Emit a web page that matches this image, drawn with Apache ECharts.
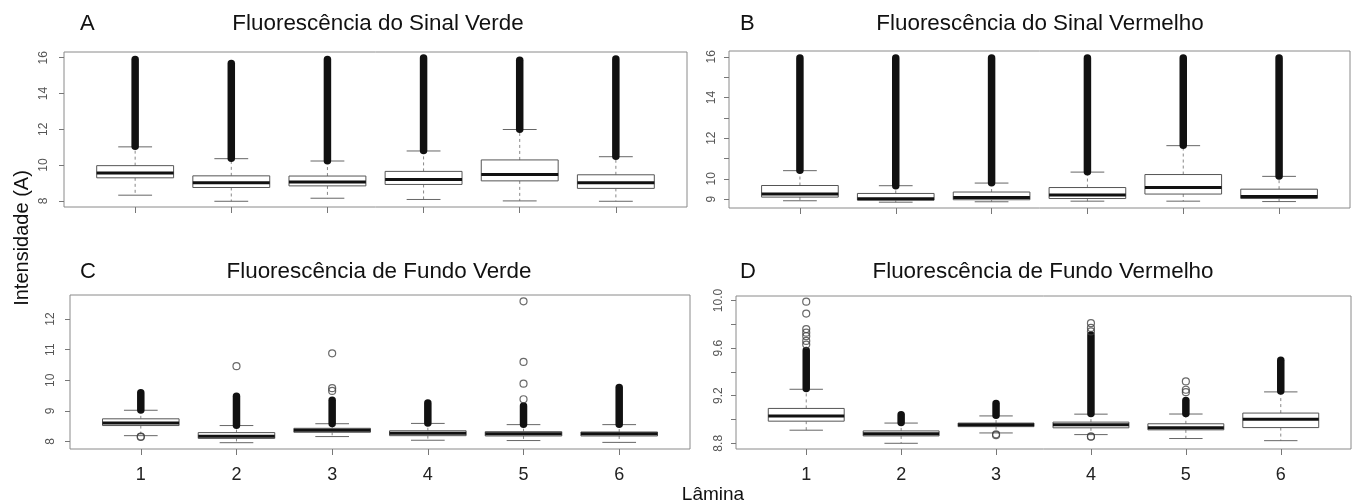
<!DOCTYPE html>
<html><head><meta charset="utf-8">
<script src="https://cdn.jsdelivr.net/npm/echarts@6/dist/echarts.min.js"></script>
<style>html,body{margin:0;padding:0;background:#fff}#c{width:1357px;height:503px}</style>
</head><body><div id="c"></div>
<script>
// ---------- data ----------
const laminas = [1, 2, 3, 4, 5, 6];
const panelLetters = ['A', 'B', 'C', 'D'];
const panelTitles = ['Fluorescência do Sinal Verde', 'Fluorescência do Sinal Vermelho',
                     'Fluorescência de Fundo Verde', 'Fluorescência de Fundo Vermelho'];
const yAxisName = 'Intensidade (A)';
const xAxisName = 'Lâmina';

// [min whisker, Q1, median, Q3, max whisker] per lâmina
const sinalVerdeBox = [[8.32, 9.29, 9.56, 9.97, 11.02], [7.98, 8.75, 9.01, 9.40, 10.36], [8.15, 8.84, 9.05, 9.39, 10.23],
                       [8.08, 8.92, 9.20, 9.65, 10.79], [8.00, 9.12, 9.48, 10.29, 11.99], [7.98, 8.70, 9.01, 9.46, 10.47]];
const sinalVermelhoBox = [[8.92, 9.10, 9.25, 9.67, 10.40], [8.85, 8.95, 9.02, 9.28, 9.66], [8.87, 8.97, 9.08, 9.35, 9.79],
                          [8.90, 9.03, 9.20, 9.57, 10.33], [8.90, 9.25, 9.57, 10.21, 11.63], [8.88, 9.03, 9.13, 9.49, 10.12]];
const fundoVerdeBox = [[8.19, 8.52, 8.60, 8.74, 9.02], [7.96, 8.10, 8.17, 8.29, 8.52], [8.16, 8.30, 8.37, 8.43, 8.58],
                       [8.04, 8.19, 8.27, 8.35, 8.59], [8.03, 8.18, 8.25, 8.32, 8.55], [7.97, 8.18, 8.25, 8.31, 8.55]];
const fundoVermelhoBox = [[8.910, 8.986, 9.030, 9.093, 9.254], [8.800, 8.862, 8.880, 8.904, 8.970], [8.887, 8.940, 8.955, 8.970, 9.030],
                          [8.873, 8.930, 8.955, 8.978, 9.045], [8.840, 8.913, 8.930, 8.964, 9.046], [8.822, 8.932, 9.003, 9.054, 9.232]];

// dense runs of outliers: [lâmina, from, to]
const sinalVerdeRuns = [[1, 11.05, 15.90], [2, 10.38, 15.68], [3, 10.25, 15.90], [4, 10.81, 15.98], [5, 12.00, 15.86], [6, 10.49, 15.93]];
const sinalVermelhoRuns = [[1, 10.42, 15.94], [2, 9.66, 15.94], [3, 9.80, 15.94], [4, 10.35, 15.94], [5, 11.65, 15.94], [6, 10.14, 15.94]];
const fundoVerdeRuns = [[1, 9.03, 9.59], [2, 8.53, 9.48], [3, 8.59, 9.35], [4, 8.60, 9.26], [5, 8.56, 9.16], [6, 8.56, 9.76]];
const fundoVermelhoRuns = [[1, 9.26, 9.58], [2, 8.975, 9.04], [3, 9.035, 9.134], [4, 9.05, 9.71], [5, 9.05, 9.16], [6, 9.24, 9.498]];

// isolated outliers: [lâmina, value]
const sinalVerdePts = [];
const sinalVermelhoPts = [];
const fundoVerdePts = [[1, 8.16], [1, 8.15], [2, 10.46], [3, 9.65], [3, 9.74], [3, 10.88],
                       [5, 9.38], [5, 9.89], [5, 10.60], [5, 12.58]];
const fundoVermelhoPts = [[1, 9.63], [1, 9.66], [1, 9.70], [1, 9.73], [1, 9.76], [1, 9.89], [1, 9.99],
                          [3, 8.875], [3, 8.868], [4, 9.74], [4, 9.77], [4, 9.81], [4, 8.855], [4, 8.858],
                          [5, 9.23], [5, 9.25], [5, 9.32]];

// axis ticks / labels
const yTicksA = [8, 10, 12, 14, 16], yLabelsA = [8, 10, 12, 14, 16];
const yTicksB = [9, 10, 11, 12, 13, 14, 15, 16], yLabelsB = [9, 10, 12, 14, 16];
const yTicksC = [8, 9, 10, 11, 12], yLabelsC = [8, 9, 10, 11, 12];
const yTicksD = [8.8, 9.0, 9.2, 9.4, 9.6, 9.8, 10.0], yLabelsD = [8.8, 9.2, 9.6, 10.0];

// ---------- layout ----------
const FONT = 'Liberation Sans, Arial, Helvetica, sans-serif';
const panels = [
  {box: sinalVerdeBox, runs: sinalVerdeRuns, pts: sinalVerdePts, yTicks: yTicksA, yLabels: yLabelsA,
   grid: {left: 64, top: 52, width: 623, height: 155}, y: [7.66, 16.32], labMargin: 14, xLabels: false, dec: 0},
  {box: sinalVermelhoBox, runs: sinalVermelhoRuns, pts: sinalVermelhoPts, yTicks: yTicksB, yLabels: yLabelsB,
   grid: {left: 729, top: 51, width: 621, height: 157}, y: [8.564, 16.286], labMargin: 11, xLabels: false, dec: 0},
  {box: fundoVerdeBox, runs: fundoVerdeRuns, pts: fundoVerdePts, yTicks: yTicksC, yLabels: yLabelsC,
   grid: {left: 70, top: 295, width: 620, height: 154}, y: [7.754, 12.786], labMargin: 13, xLabels: true, dec: 0},
  {box: fundoVermelhoBox, runs: fundoVermelhoRuns, pts: fundoVermelhoPts, yTicks: yTicksD, yLabels: yLabelsD,
   grid: {left: 736, top: 296, width: 615, height: 153}, y: [8.752, 10.038], labMargin: 11, xLabels: true, dec: 1}
];
const titlePos = [{lx: 80, cx: 378, y: 24}, {lx: 740, cx: 1040, y: 24}, {lx: 80, cx: 379, y: 272}, {lx: 740, cx: 1043, y: 272}];

function renderBox(params, api) {
  const x = api.value(0);
  const pLo = api.coord([x, api.value(1)]);
  const pQ1 = api.coord([x, api.value(2)]);
  const pMd = api.coord([x, api.value(3)]);
  const pQ3 = api.coord([x, api.value(4)]);
  const pHi = api.coord([x, api.value(5)]);
  const bw = api.size([0.8, 0])[0];
  const cx = pMd[0];
  const sw = bw * 0.22;
  return {type: 'group', children: [
    {type: 'line', shape: {x1: cx, y1: pQ3[1], x2: cx, y2: pHi[1]}, style: {stroke: '#888', lineWidth: 1, lineDash: [3, 3]}},
    {type: 'line', shape: {x1: cx, y1: pQ1[1], x2: cx, y2: pLo[1]}, style: {stroke: '#888', lineWidth: 1, lineDash: [3, 3]}},
    {type: 'line', shape: {x1: cx - sw, y1: pHi[1], x2: cx + sw, y2: pHi[1]}, style: {stroke: '#666', lineWidth: 1}},
    {type: 'line', shape: {x1: cx - sw, y1: pLo[1], x2: cx + sw, y2: pLo[1]}, style: {stroke: '#666', lineWidth: 1}},
    {type: 'rect', shape: {x: cx - bw / 2, y: pQ3[1], width: bw, height: pQ1[1] - pQ3[1]}, style: {fill: '#fff', stroke: '#555', lineWidth: 1}},
    {type: 'line', shape: {x1: cx - bw / 2, y1: pMd[1], x2: cx + bw / 2, y2: pMd[1]}, style: {stroke: '#111', lineWidth: 3}}
  ]};
}
function renderRun(params, api) {
  const x = api.value(0);
  const a = api.coord([x, api.value(1)]);
  const b = api.coord([x, api.value(2)]);
  return {type: 'line', shape: {x1: a[0], y1: a[1], x2: b[0], y2: b[1]}, style: {stroke: '#111', lineWidth: 7.5, lineCap: 'round'}};
}

const grids = [], xAxes = [], yAxes = [], series = [], graphics = [];
panels.forEach((p, i) => {
  grids.push(Object.assign({show: true, borderColor: '#8a8a8a', borderWidth: 1, backgroundColor: 'transparent'}, p.grid));
  xAxes.push({type: 'value', gridIndex: i, min: 0.26, max: 6.74,
    axisLine: {show: false}, splitLine: {show: false},
    axisTick: {show: true, customValues: laminas, length: 6, lineStyle: {color: '#777'}},
    axisLabel: {show: p.xLabels, customValues: laminas, fontSize: 18, color: '#222', fontFamily: FONT, margin: 17}});
  yAxes.push({type: 'value', gridIndex: i, min: p.y[0], max: p.y[1],
    axisLine: {show: false}, splitLine: {show: false},
    axisTick: {show: true, customValues: p.yTicks, length: 5, lineStyle: {color: '#777'}},
    axisLabel: {customValues: p.yLabels, rotate: 90, fontSize: 12, color: '#555', fontFamily: FONT, margin: p.labMargin,
      formatter: v => Number(v).toFixed(p.dec)}});
  series.push({type: 'custom', xAxisIndex: i, yAxisIndex: i, renderItem: renderBox, silent: true,
    encode: {x: 0, y: [1, 2, 3, 4, 5]},
    data: laminas.map((l, k) => [l].concat(p.box[k]))});
  series.push({type: 'custom', xAxisIndex: i, yAxisIndex: i, renderItem: renderRun, silent: true,
    encode: {x: 0, y: [1, 2]}, data: p.runs});
  series.push({type: 'scatter', xAxisIndex: i, yAxisIndex: i, silent: true, symbol: 'circle', symbolSize: 7,
    itemStyle: {color: 'rgba(0,0,0,0)', borderColor: '#444', borderWidth: 1.2}, data: p.pts});
  const t = titlePos[i];
  graphics.push({type: 'text', x: t.lx, y: t.y, style: {text: panelLetters[i], font: '22px ' + FONT, fill: '#111',
    textAlign: 'left', textVerticalAlign: 'middle', align: 'left', verticalAlign: 'middle'}});
  graphics.push({type: 'text', x: t.cx, y: t.y, style: {text: panelTitles[i], font: '22.4px ' + FONT, fill: '#111',
    textAlign: 'center', textVerticalAlign: 'middle', align: 'center', verticalAlign: 'middle'}});
});
graphics.push({type: 'text', x: 22, y: 238, rotation: Math.PI / 2, style: {text: yAxisName, font: '20px ' + FONT, fill: '#111',
  textAlign: 'center', textVerticalAlign: 'middle', align: 'center', verticalAlign: 'middle'}});
graphics.push({type: 'text', x: 713, y: 495, style: {text: xAxisName, font: '19px ' + FONT, fill: '#111',
  textAlign: 'center', textVerticalAlign: 'middle', align: 'center', verticalAlign: 'middle'}});

const chart = echarts.init(document.getElementById('c'), null, {renderer: 'canvas'});
chart.setOption({
  animation: false,
  backgroundColor: '#fff',
  grid: grids, xAxis: xAxes, yAxis: yAxes, series: series,
  graphic: {elements: graphics}
});
</script></body></html>
